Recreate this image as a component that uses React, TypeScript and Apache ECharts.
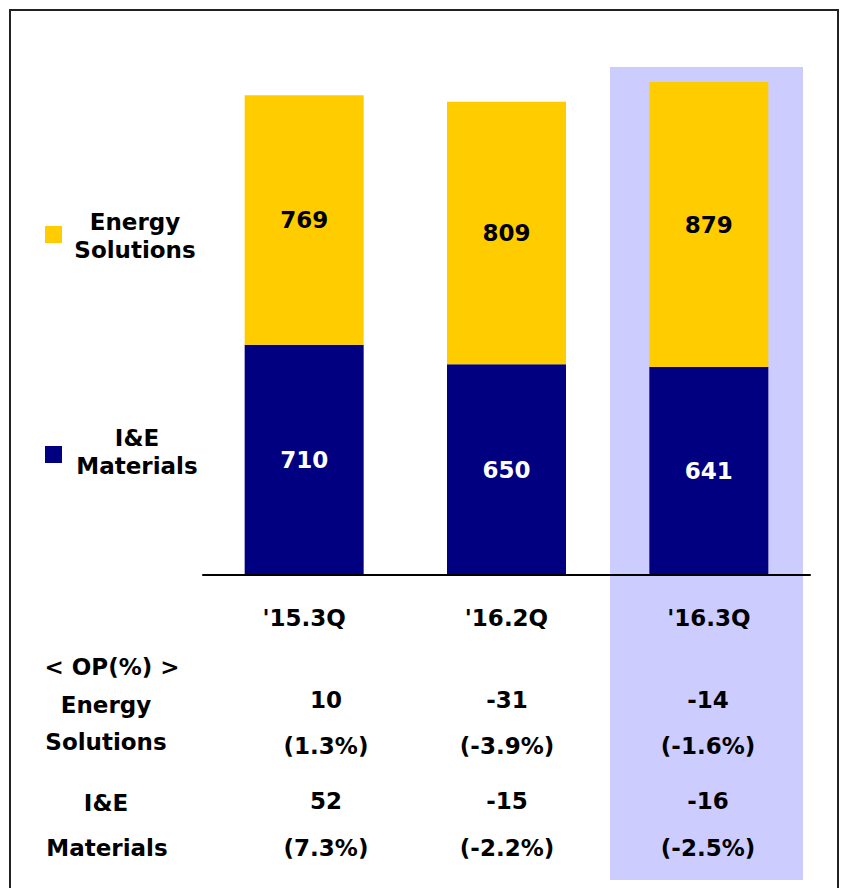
import React, { useEffect, useRef } from "react";
import * as echarts from "echarts";

const categories = ["'15.3Q", "'16.2Q", "'16.3Q"];
const ieMaterials = [710, 650, 641];
const energySolutions = [769, 809, 879];
const seriesNames = ["I&E\nMaterials", "Energy\nSolutions"];
const opHeader = "< OP(%) >";
const esOp = ["10", "-31", "-14"];
const esOpPct = ["(1.3%)", "(-3.9%)", "(-1.6%)"];
const ieOp = ["52", "-15", "-16"];
const ieOpPct = ["(7.3%)", "(-2.2%)", "(-2.5%)"];

const FONT = "DejaVu Sans";
const FS = 23;
const NAVY = "#000080";
const YELLOW = "#FFCC00";
const HILITE = "#CCCCFF";

export default function App() {
  const ref = useRef<HTMLDivElement>(null);
  useEffect(() => {
    if (!ref.current) return;
    const chart = echarts.init(ref.current, null, { renderer: "svg" });
    const txt = (text: string, x: number, y: number, extra: any = {}) => ({
      type: "text",
      x,
      y,
      silent: true,
      style: {
        text,
        font: `bold ${FS}px "${FONT}"`,
        fill: "#000",
        align: "center",
        verticalAlign: "middle",
        ...extra,
      },
    });
    const colX = [326, 507, 708];
    const graphics: any[] = [
      {
        type: "rect",
        z: -10,
        silent: true,
        shape: { x: 610, y: 67, width: 193, height: 813 },
        style: { fill: HILITE },
      },
      {
        type: "rect",
        z: 100,
        silent: true,
        shape: { x: 10, y: 10, width: 828, height: 900 },
        style: { fill: "none", stroke: "#222", lineWidth: 2 },
      },
      { type: "rect", shape: { x: 45, y: 226, width: 17, height: 17 }, style: { fill: YELLOW } },
      txt("Energy", 135, 222),
      txt("Solutions", 135, 250),
      { type: "rect", shape: { x: 45, y: 446, width: 17, height: 17 }, style: { fill: NAVY } },
      txt("I&E", 137, 438),
      txt("Materials", 137, 466),
      txt(opHeader, 112, 667),
      txt("Energy", 106, 705),
      txt("Solutions", 106, 742),
      txt("I&E", 106, 803),
      txt("Materials", 107, 848),
    ];
    for (let i = 0; i < categories.length; i++) {
      graphics.push(txt(esOp[i], colX[i], 700));
      graphics.push(txt(esOpPct[i], colX[i], 746));
      graphics.push(txt(ieOp[i], colX[i], 801));
      graphics.push(txt(ieOpPct[i], colX[i], 848));
    }
    const label = (color: string) => ({
      show: true,
      position: "inside",
      color,
      fontFamily: FONT,
      fontWeight: "bold",
      fontSize: FS,
    });
    chart.setOption({
      animation: false,
      grid: { left: 203, right: 31, top: 56, bottom: 313 },
      xAxis: {
        type: "category",
        data: categories,
        axisLine: { show: true, lineStyle: { color: "#000", width: 2 } },
        axisTick: { show: false },
        axisLabel: {
          margin: 31,
          color: "#000",
          fontFamily: FONT,
          fontWeight: "bold",
          fontSize: FS,
        },
        z: 5,
      },
      yAxis: { type: "value", min: 0, max: 1600, show: false, splitLine: { show: false } },
      series: [
        {
          name: seriesNames[0],
          type: "bar",
          stack: "total",
          barWidth: 119,
          data: ieMaterials,
          itemStyle: { color: NAVY },
          label: label("#fff"),
        },
        {
          name: seriesNames[1],
          type: "bar",
          stack: "total",
          barWidth: 119,
          data: energySolutions,
          itemStyle: { color: YELLOW },
          label: label("#000"),
        },
      ],
      graphic: graphics,
    });
    return () => chart.dispose();
  }, []);
  return (
    <div
      ref={ref}
      style={{ position: "fixed", left: 0, top: 0, width: 841, height: 888, background: "#fff" }}
    />
  );
}
